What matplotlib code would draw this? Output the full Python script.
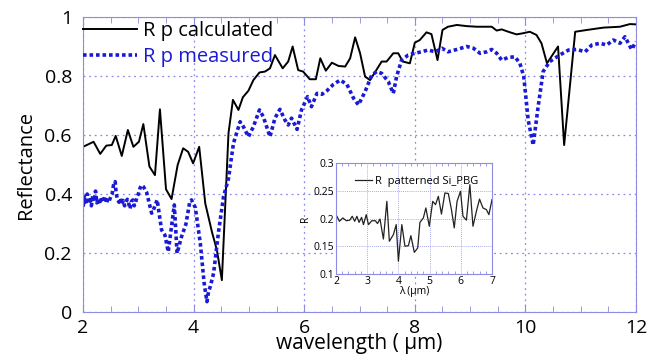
import matplotlib.pyplot as plt
from matplotlib.ticker import MultipleLocator, FormatStrFormatter

# calculated reflectance (black)
calc_wl = [2.0, 2.19, 2.31, 2.42, 2.52, 2.59, 2.70, 2.81, 2.91, 3.01, 3.09, 3.20, 3.30,
           3.39, 3.50, 3.60, 3.71, 3.81, 3.90, 3.99, 4.10, 4.21, 4.33, 4.42, 4.51, 4.63,
           4.71, 4.81, 4.89, 4.99, 5.08, 5.19, 5.29, 5.38, 5.47, 5.61, 5.71, 5.79, 5.89,
           5.98, 6.10, 6.21, 6.29, 6.39, 6.50, 6.62, 6.74, 6.83, 6.92, 7.01, 7.10, 7.19,
           7.40, 7.49, 7.61, 7.70, 7.78, 7.91, 8.00, 8.09, 8.21, 8.30, 8.41, 8.50, 8.60,
           8.76, 8.94, 9.12, 9.39, 9.48, 9.57, 9.69, 9.84, 9.96, 10.08, 10.20, 10.29,
           10.39, 10.59, 10.70, 10.90, 11.11, 11.41, 11.71, 11.89, 12.0]
calc_r = [0.56, 0.577, 0.536, 0.564, 0.566, 0.597, 0.529, 0.617, 0.56, 0.577, 0.637, 0.493, 0.464,
          0.687, 0.416, 0.383, 0.498, 0.555, 0.543, 0.504, 0.56, 0.368, 0.272, 0.21, 0.108, 0.606,
          0.719, 0.685, 0.728, 0.75, 0.786, 0.812, 0.815, 0.826, 0.871, 0.826, 0.849, 0.9, 0.82,
          0.815, 0.789, 0.789, 0.86, 0.818, 0.845, 0.834, 0.832, 0.86, 0.931, 0.877, 0.798, 0.786,
          0.849, 0.849, 0.877, 0.877, 0.849, 0.843, 0.913, 0.922, 0.948, 0.942, 0.854, 0.956, 0.967,
          0.973, 0.969, 0.967, 0.967, 0.954, 0.958, 0.95, 0.941, 0.945, 0.95, 0.939, 0.911,
          0.843, 0.9, 0.566, 0.95, 0.956, 0.964, 0.967, 0.976, 0.975]

# measured reflectance (blue dotted)
meas_wl = [2.0, 2.025, 2.05, 2.075, 2.1, 2.125, 2.15, 2.175, 2.2, 2.225, 2.25, 2.275, 2.3,
           2.325, 2.35, 2.375, 2.4, 2.425, 2.45, 2.475, 2.5, 2.525, 2.55, 2.58, 2.6, 2.625,
           2.65, 2.675, 2.7, 2.725, 2.75, 2.775, 2.8, 2.825, 2.85, 2.875, 2.9, 2.925, 2.95,
           2.975, 3.0, 3.03, 3.06, 3.09, 3.15, 3.24, 3.27, 3.34, 3.42, 3.48, 3.54, 3.65, 3.70,
           3.78, 3.86, 3.93, 3.96, 4.03, 4.12, 4.19, 4.24, 4.27, 4.30, 4.36, 4.45, 4.54, 4.63,
           4.72, 4.84, 4.90, 4.99, 5.08, 5.19, 5.26, 5.38, 5.47, 5.56, 5.65, 5.71, 5.77, 5.87,
           5.95, 6.06, 6.13, 6.23, 6.32, 6.41, 6.53, 6.65, 6.77, 6.89, 6.98, 7.10, 7.22, 7.31,
           7.40, 7.52, 7.61, 7.67, 7.76, 7.88, 8.00, 8.12, 8.24, 8.37, 8.49, 8.60, 8.76, 8.94,
           9.06, 9.18, 9.30, 9.39, 9.48, 9.57, 9.69, 9.81, 9.90, 9.97, 10.05, 10.14, 10.23,
           10.32, 10.44, 10.62, 10.78, 10.93, 11.08, 11.20, 11.35, 11.47, 11.59, 11.71, 11.80,
           11.92, 12.0]
meas_r = [0.357, 0.39, 0.365, 0.40, 0.37, 0.38, 0.36, 0.395, 0.375, 0.41, 0.37, 0.385, 0.365,
          0.39, 0.38, 0.372, 0.392, 0.368, 0.385, 0.378, 0.39, 0.40, 0.43, 0.442, 0.40, 0.38,
          0.372, 0.385, 0.365, 0.378, 0.36, 0.372, 0.382, 0.368, 0.35, 0.375, 0.38, 0.36, 0.372,
          0.39, 0.40, 0.42, 0.43, 0.425, 0.405, 0.335, 0.345, 0.38, 0.278, 0.261, 0.204, 0.363, 0.199,
          0.255, 0.298, 0.374, 0.38, 0.354, 0.233, 0.097, 0.035, 0.07, 0.086, 0.131, 0.272, 0.391, 0.453,
          0.572, 0.645, 0.628, 0.594, 0.628, 0.685, 0.662, 0.594, 0.657, 0.687, 0.651, 0.634, 0.657, 0.619,
          0.685, 0.73, 0.696, 0.741, 0.738, 0.75, 0.772, 0.786, 0.772, 0.725, 0.702, 0.747, 0.803, 0.815,
          0.809, 0.781, 0.741, 0.798, 0.854, 0.871, 0.877, 0.882, 0.888, 0.882, 0.894, 0.882, 0.89, 0.9,
          0.894, 0.877, 0.882, 0.89, 0.877, 0.854, 0.863, 0.865, 0.843, 0.798, 0.651, 0.566, 0.696,
          0.815, 0.849, 0.871, 0.888, 0.89, 0.882, 0.905, 0.911, 0.905, 0.922, 0.911, 0.933,
          0.89, 0.916]

# inset: patterned Si PBG
inset_wl = [2.0, 2.11, 2.22, 2.33, 2.44, 2.52, 2.60, 2.67, 2.74, 2.82, 2.88, 2.97, 3.04, 3.15,
            3.26, 3.33, 3.41, 3.52, 3.63, 3.71, 3.84, 3.93, 4.00, 4.11, 4.21, 4.32, 4.40, 4.51,
            4.62, 4.69, 4.80, 4.88, 4.99, 5.10, 5.19, 5.28, 5.38, 5.49, 5.60, 5.70, 5.79, 5.88,
            5.99, 6.07, 6.18, 6.29, 6.39, 6.50, 6.60, 6.71, 6.82, 6.90, 7.00]
inset_r = [0.207, 0.195, 0.201, 0.196, 0.197, 0.204, 0.195, 0.204, 0.193, 0.202, 0.189, 0.207, 0.189,
           0.196, 0.196, 0.191, 0.199, 0.163, 0.231, 0.159, 0.171, 0.189, 0.123, 0.189, 0.15, 0.151,
           0.169, 0.139, 0.147, 0.193, 0.201, 0.219, 0.186, 0.231, 0.225, 0.24, 0.208, 0.246, 0.245,
           0.216, 0.183, 0.231, 0.249, 0.204, 0.197, 0.261, 0.186, 0.213, 0.235, 0.219, 0.216, 0.207,
           0.234]

edge = '#8c8ce6'
gridc = '#8a8ae8'
blue = '#1a1ad6'

plt.rcParams['font.family'] = ['Open Sans', 'DejaVu Sans']

fig = plt.figure(figsize=(6.49, 3.6), dpi=100)
ax = fig.add_axes([0.128, 0.1333, 0.852, 0.8195])

ax.plot(calc_wl, calc_r, color='black', lw=1.4, label='R p calculated')
ax.plot(meas_wl, meas_r, color=blue, lw=2.6, ls=(0, (1, 0.8)), label='R p measured')

ax.set_xlim(2, 12)
ax.set_ylim(0, 1)
ax.xaxis.set_major_locator(MultipleLocator(2))
ax.xaxis.set_minor_locator(MultipleLocator(0.5))
ax.yaxis.set_major_locator(MultipleLocator(0.2))
ax.yaxis.set_major_formatter(FormatStrFormatter('%g'))
ax.grid(True, which='major', color=gridc, ls=(0, (1.5, 3)), lw=0.9)
for s in ax.spines.values():
    s.set_color(edge)
ax.tick_params(which='both', direction='in', top=True, right=True, color=edge,
               labelsize=14)
ax.tick_params(axis='x', which='major', length=6, pad=5)
ax.tick_params(axis='y', which='major', length=0, pad=8)
ax.tick_params(which='minor', length=4, left=False, right=False)
ax.set_xlabel('wavelength ( μm)', fontsize=15, labelpad=-3)
ax.set_ylabel('Reflectance', fontsize=14.5, labelpad=6)

leg = ax.legend(loc='upper left', bbox_to_anchor=(0, 0.985), frameon=False, fontsize=14.5,
                handlelength=2.7, handletextpad=0.3, borderaxespad=0, borderpad=0,
                labelspacing=0.3, labelcolor='linecolor')

# inset
ins = fig.add_axes([0.5177, 0.2389, 0.2404, 0.3083])
ins.plot(inset_wl, inset_r, color='#222222', lw=0.9, label='R  patterned Si_PBG')
ins.set_xlim(2, 7)
ins.set_ylim(0.1, 0.3)
ins.xaxis.set_major_locator(MultipleLocator(1))
ins.xaxis.set_minor_locator(MultipleLocator(0.2))
ins.yaxis.set_major_locator(MultipleLocator(0.05))
ins.yaxis.set_major_formatter(FormatStrFormatter('%g'))
ins.grid(True, which='major', color=gridc, ls=(0, (1, 1.5)), lw=0.6)
for s in ins.spines.values():
    s.set_color(edge)
ins.tick_params(which='both', direction='in', top=True, right=True, color=edge,
                labelsize=7.5, pad=1.5)
ins.tick_params(which='major', length=0)
ins.tick_params(which='minor', length=2.5, left=False, right=False)
ins.set_xlabel('λ (μm)', fontsize=7.5, labelpad=-0.5)
ins.set_ylabel('R', fontsize=7.5, labelpad=2)
ins.legend(loc='center left', bbox_to_anchor=(0.12, 0.83), frameon=False, fontsize=8,
           handlelength=1.6, handletextpad=0.2, borderpad=0, borderaxespad=0)

fig.savefig('out.png', dpi=100)
